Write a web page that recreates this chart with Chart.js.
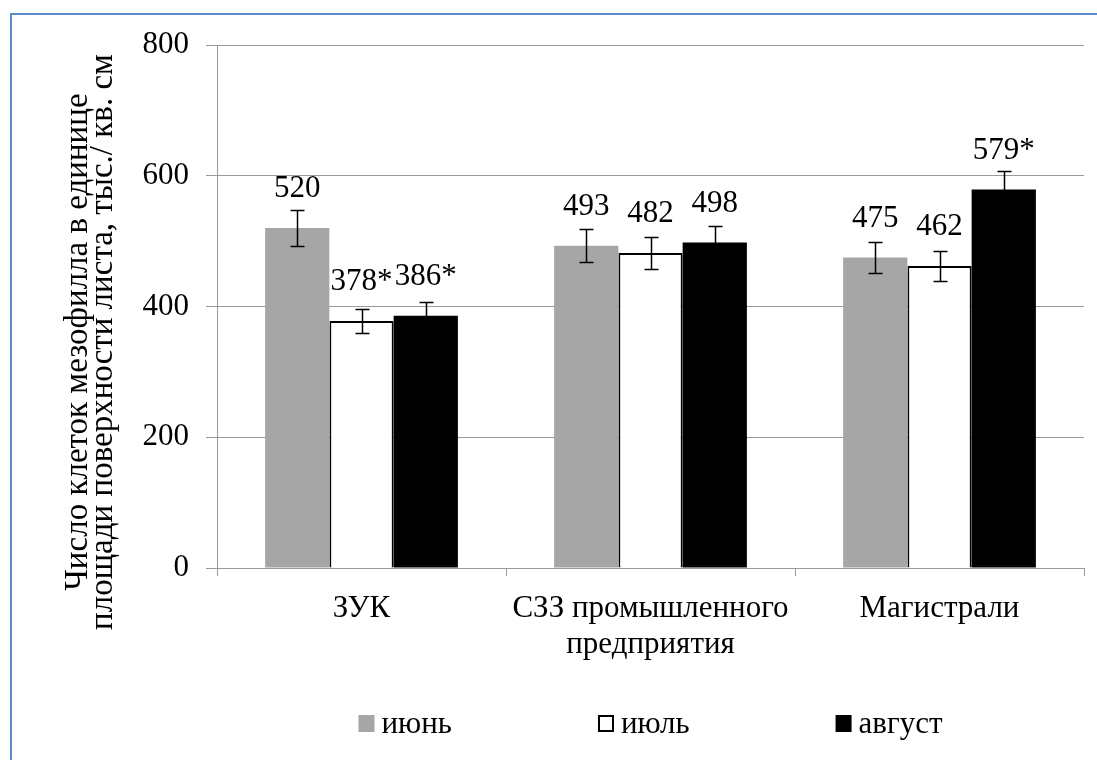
<!DOCTYPE html>
<html>
<head>
<meta charset="utf-8">
<script src="https://cdn.jsdelivr.net/npm/chart.js@4.4.1/dist/chart.umd.min.js"></script>
<style>
  html, body { margin: 0; padding: 0; background: #fff; }
</style>
</head>
<body>
<canvas id="cells" width="1097" height="760"></canvas>
<script>
// data
const categories = ['ЗУК', ['СЗЗ промышленного', 'предприятия'], 'Магистрали'];
const seriesNames = ['июнь', 'июль', 'август'];
const june = [520, 493, 475];
const july = [378, 482, 462];
const august = [386, 498, 579];
const juneErr = [27, 25, 24];
const julyErr = [18, 24, 23];
const augustErr = [21, 25, 29];
// "*" marks in the labels
const juneSig = [false, false, false];
const julySig = [true, false, false];
const augustSig = [true, false, true];
const yTicks = [0, 200, 400, 600, 800];
const yTitle = ['Число клеток мезофилла в единице', 'площади поверхности листа, тыс./ кв. см'];

const FONT = 'Liberation Serif';
const SIZE = 31;

// blue frame round the picture (only top and left are visible)
const frame = {
  id: 'frame',
  beforeDraw(chart) {
    const c = chart.ctx;
    c.save();
    c.strokeStyle = '#5b8bc9';
    c.lineWidth = 2;
    c.beginPath();
    c.moveTo(11, chart.height);
    c.lineTo(11, 14);
    c.lineTo(chart.width, 14);
    c.stroke();
    c.restore();
  }
};

const errorBars = {
  id: 'errorBars',
  afterDatasetsDraw(chart) {
    const c = chart.ctx, y = chart.scales.y;
    c.save();
    c.strokeStyle = '#000';
    c.lineWidth = 1.5;
    chart.data.datasets.forEach((ds, i) => {
      chart.getDatasetMeta(i).data.forEach((bar, j) => {
        const v = ds.data[j], e = ds.errors[j];
        const top = Math.round(y.getPixelForValue(v + e)) + 0.5;
        const bot = Math.round(y.getPixelForValue(v - e)) + 0.5;
        const x = Math.round(bar.x) + 0.5;
        c.beginPath();
        c.moveTo(x, top); c.lineTo(x, bot);
        c.moveTo(x - 7, top); c.lineTo(x + 7, top);
        c.moveTo(x - 7, bot); c.lineTo(x + 7, bot);
        c.stroke();
      });
    });
    c.restore();
  }
};

const valueLabels = {
  id: 'valueLabels',
  afterDatasetsDraw(chart) {
    const c = chart.ctx;
    c.save();
    c.font = SIZE + 'px "' + FONT + '", serif';
    c.fillStyle = '#000';
    c.textAlign = 'center';
    c.textBaseline = 'middle';
    chart.data.datasets.forEach((ds, i) => {
      chart.getDatasetMeta(i).data.forEach((bar, j) => {
        const txt = ds.data[j] + (ds.marks[j] ? '*' : '');
        c.fillText(txt, bar.x, bar.y - 39);
      });
    });
    c.restore();
  }
};

const axisTitle = {
  id: 'axisTitle',
  afterDraw(chart) {
    const c = chart.ctx;
    c.save();
    c.font = '33px "' + FONT + '", serif';
    c.fillStyle = '#000';
    c.textAlign = 'center';
    c.textBaseline = 'middle';
    c.translate(0, 342);
    c.rotate(-Math.PI / 2);
    c.fillText(yTitle[0], 0, 78);
    c.fillText(yTitle[1], 0, 103);
    c.restore();
  }
};

// legend drawn by hand so the item spacing matches
const bottomLegend = {
  id: 'bottomLegend',
  afterDraw(chart) {
    const c = chart.ctx;
    const box = 16, gap = 7, between = 146, cy = 723;
    c.save();
    c.font = SIZE + 'px "' + FONT + '", serif';
    c.textBaseline = 'middle';
    c.textAlign = 'left';
    const items = chart.data.datasets.map(ds => ({
      ds, w: box + gap + c.measureText(ds.label).width
    }));
    const total = items.reduce((s, it) => s + it.w, 0) + between * (items.length - 1);
    const area = chart.chartArea;
    let x = (area.left + area.right) / 2 - total / 2;
    items.forEach(it => {
      c.fillStyle = it.ds.backgroundColor;
      c.fillRect(x, cy - 8, box, 17);
      if (it.ds.borderWidth) {
        c.strokeStyle = it.ds.borderColor;
        c.lineWidth = 2;
        c.strokeRect(x + 1, cy - 7, box - 2, 15);
      }
      c.fillStyle = '#000';
      c.fillText(it.ds.label, x + box + gap, cy + 2);
      x += it.w + between;
    });
    c.restore();
  }
};

new Chart(document.getElementById('cells'), {
  type: 'bar',
  data: {
    labels: categories,
    datasets: [
      { label: seriesNames[0], data: june, errors: juneErr, marks: juneSig,
        backgroundColor: '#a6a6a6', borderWidth: 0 },
      { label: seriesNames[1], data: july, errors: julyErr, marks: julySig,
        backgroundColor: '#ffffff', borderColor: '#000', borderWidth: 2 },
      { label: seriesNames[2], data: august, errors: augustErr, marks: augustSig,
        backgroundColor: '#000000', borderWidth: 0 }
    ]
  },
  options: {
    responsive: false,
    animation: false,
    devicePixelRatio: 1,
    layout: { padding: { left: 0, right: 13, top: 45, bottom: 0 } },
    datasets: {
      bar: { categoryPercentage: 0.667, barPercentage: 1.0 }
    },
    plugins: {
      legend: { display: false },
      tooltip: { enabled: false }
    },
    scales: {
      x: {
        grid: { display: true, drawOnChartArea: false, drawTicks: true, tickLength: 8, color: '#999' },
        border: { color: '#999', width: 1 },
        ticks: {
          color: '#000',
          padding: 15,
          maxRotation: 0,
          font: { family: FONT, size: SIZE, lineHeight: 1.15 }
        },
        afterFit(scale) { scale.height = 192; }
      },
      y: {
        min: 0,
        max: 800,
        afterBuildTicks(scale) { scale.ticks = yTicks.map(v => ({ value: v })); },
        grid: { color: '#999', tickLength: 11 },
        border: { color: '#999', width: 1 },
        ticks: {
          color: '#000',
          padding: 17,
          font: { family: FONT, size: SIZE }
        },
        afterFit(scale) { scale.width = 217; }
      }
    }
  },
  plugins: [frame, errorBars, valueLabels, axisTitle, bottomLegend]
});
</script>
</body>
</html>
